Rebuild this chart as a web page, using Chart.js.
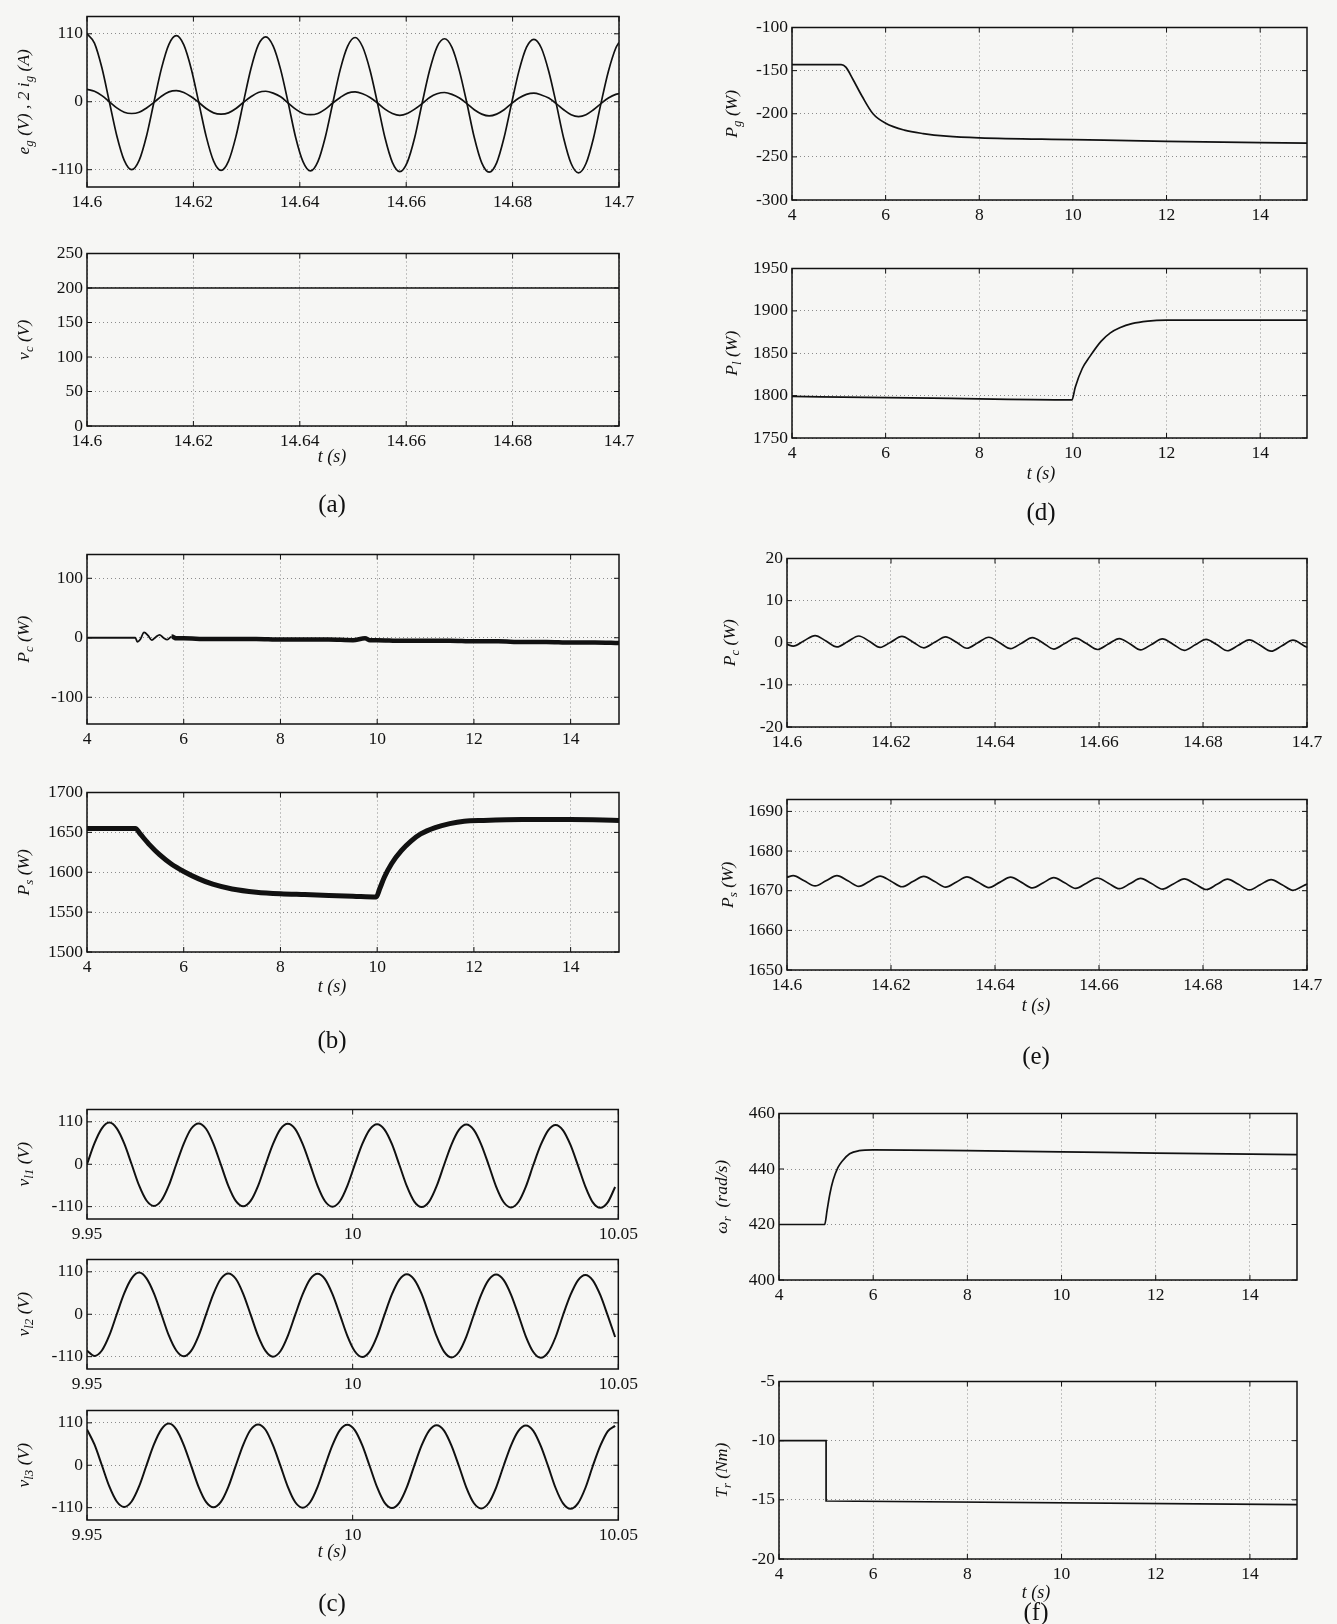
<!DOCTYPE html>
<html>
<head>
<meta charset="utf-8">
<script src="https://cdn.jsdelivr.net/npm/chart.js@4.4.1/dist/chart.umd.min.js"></script>
<style>
    body { margin: 0; background: #f6f6f4; }
    #page { position: relative; width: 1337px; height: 1624px; overflow: hidden; }
    .plot { position: absolute; }
    .lbl { position: absolute; font-family: 'Liberation Serif', 'DejaVu Serif', serif; color: #111;
           transform: translate(-50%, -50%); white-space: nowrap; }
    .tl { font-style: italic; font-size: 18px; }
    .cap { font-size: 25px; }
</style>
</head>
<body>
<div id="page"></div>
<script>
// (a) top - grid voltage and current, 14.6..14.7 s
const tGridA = [
    14.6000, 14.6014, 14.6028, 14.6042, 14.6056, 14.6070, 14.6084, 14.6098, 14.6112, 14.6126, 14.6140, 14.6154,
    14.6168, 14.6182, 14.6196, 14.6210, 14.6224, 14.6238, 14.6252, 14.6266, 14.6280, 14.6294, 14.6308, 14.6322,
    14.6336, 14.6350, 14.6364, 14.6378, 14.6392, 14.6406, 14.6420, 14.6434, 14.6448, 14.6462, 14.6476, 14.6490,
    14.6504, 14.6518, 14.6532, 14.6546, 14.6560, 14.6574, 14.6588, 14.6602, 14.6616, 14.6630, 14.6644, 14.6658,
    14.6672, 14.6686, 14.6700, 14.6714, 14.6728, 14.6742, 14.6756, 14.6770, 14.6784, 14.6798, 14.6812, 14.6826,
    14.6840, 14.6854, 14.6868, 14.6882, 14.6896, 14.6910, 14.6924, 14.6938, 14.6952, 14.6966, 14.6980, 14.6994,
    14.7000
];
const egA = [
    110, 95, 55, 0, -55, -95, -110, -95, -55, 0, 54, 93,
    107, 92, 53, -1, -56, -96, -111, -96, -56, -1, 53, 92,
    105, 90, 52, -1, -57, -97, -112, -97, -57, -2, 52, 90,
    104, 89, 51, -2, -58, -98, -113, -98, -58, -2, 51, 89,
    102, 88, 50, -2, -58, -99, -114, -99, -58, -3, 50, 88,
    101, 87, 49, -3, -59, -100, -115, -100, -59, -3, 49, 87,
    96
];
const ig2A = [
    20, 17, 10, 0, -10, -17, -19, -17, -10, -1, 9, 16,
    18, 15, 8, -1, -11, -18, -20, -18, -11, -1, 8, 15,
    17, 14, 8, -2, -12, -19, -21, -19, -12, -2, 7, 14,
    16, 13, 7, -2, -12, -19, -22, -19, -12, -3, 7, 13,
    15, 12, 6, -3, -13, -20, -23, -20, -13, -3, 6, 12,
    14, 11, 6, -3, -13, -21, -24, -21, -13, -3, 6, 12,
    13
];
// (a) bottom - dc link voltage
const tVc = [14.6, 14.65, 14.7];
const vcA = [200, 200, 200];

// (b) 4..15 s
const tPcB = [4, 5.0, 5.04, 5.1, 5.18, 5.26, 5.34, 5.42, 5.5, 5.58, 5.66, 5.75, 5.85, 6.0, 6.5, 7, 7.5, 8, 8.5, 9, 9.5, 9.75, 9.85, 10, 10.5, 11, 11.5, 12, 12.5, 13, 13.5, 14, 14.5, 15];
const pcB = [0, 0, -7, -3, 9, 4, -4, 1, 5, 0, -3, 2, -1, -1, -2, -2, -2, -3, -3, -3, -4, -1, -4, -4, -5, -5, -5, -6, -6, -7, -7, -8, -8, -9];
const tPsB = [4, 5.0, 5.1, 5.3, 5.5, 5.75, 6, 6.3, 6.6, 7, 7.5, 8, 8.5, 9, 9.5, 9.98, 10.05, 10.15, 10.3, 10.5, 10.7, 10.9, 11.2, 11.5, 11.8, 12.2, 13, 14, 15];
const psB = [1655, 1655, 1648, 1634, 1622, 1610, 1601, 1592, 1585, 1579, 1575, 1573, 1572, 1571, 1570, 1569, 1579, 1594, 1611, 1627, 1639, 1648, 1656, 1661, 1664, 1665, 1666, 1666, 1665];

// (c) load voltages, 9.95..10.05 s
const tGridC = [
    9.9500, 9.9514, 9.9528, 9.9542, 9.9556, 9.9570, 9.9584, 9.9598, 9.9612, 9.9626, 9.9640, 9.9654,
    9.9668, 9.9682, 9.9696, 9.9710, 9.9724, 9.9738, 9.9752, 9.9766, 9.9780, 9.9794, 9.9808, 9.9822,
    9.9836, 9.9850, 9.9864, 9.9878, 9.9892, 9.9906, 9.9920, 9.9934, 9.9948, 9.9962, 9.9976, 9.9990,
    10.0004, 10.0018, 10.0032, 10.0046, 10.0060, 10.0074, 10.0088, 10.0102, 10.0116, 10.0130, 10.0144, 10.0158,
    10.0172, 10.0186, 10.0200, 10.0214, 10.0228, 10.0242, 10.0256, 10.0270, 10.0284, 10.0298, 10.0312, 10.0326,
    10.0340, 10.0354, 10.0368, 10.0382, 10.0396, 10.0410, 10.0424, 10.0438, 10.0452, 10.0466, 10.0480, 10.0494
];
const vl1 = [
    0, 54, 93, 108, 93, 54, 0, -55, -94, -108, -94, -55,
    0, 53, 92, 106, 92, 53, -1, -56, -95, -109, -95, -56,
    -1, 52, 91, 105, 91, 52, -1, -56, -96, -110, -96, -56,
    -1, 52, 90, 104, 90, 52, -2, -57, -97, -111, -97, -57,
    -2, 51, 89, 103, 89, 51, -2, -58, -98, -112, -98, -58,
    -2, 50, 88, 102, 88, 50, -3, -58, -99, -113, -99, -59
];
const vl2 = [
    -94, -108, -94, -55, 0, 54, 93, 108, 93, 54, 0, -55,
    -94, -109, -95, -56, -1, 53, 92, 106, 92, 53, -1, -56,
    -95, -110, -96, -56, -1, 52, 91, 105, 91, 52, -1, -56,
    -96, -111, -97, -57, -1, 52, 90, 104, 90, 52, -2, -57,
    -97, -112, -98, -58, -2, 51, 89, 103, 89, 51, -2, -58,
    -98, -113, -99, -59, -2, 50, 88, 102, 88, 50, -3, -59
];
const vl3 = [
    93, 54, 0, -55, -94, -108, -94, -55, 0, 54, 93, 108,
    93, 53, -1, -56, -95, -109, -95, -56, -1, 53, 92, 106,
    92, 52, -1, -56, -96, -110, -96, -56, -1, 52, 91, 105,
    91, 52, -2, -57, -97, -111, -97, -57, -1, 52, 90, 104,
    90, 51, -2, -58, -98, -112, -98, -58, -2, 51, 89, 103,
    89, 50, -3, -59, -99, -113, -99, -59, -2, 50, 88, 102
];

// (d) powers, 4..15 s
const tPg = [4, 5.05, 5.15, 5.3, 5.5, 5.73, 6, 6.4, 6.8, 7.3, 8, 10, 12, 15];
const pg = [-143, -143, -146, -160, -180, -200, -211, -219, -223, -226, -228, -230, -232, -234];
const tPl = [4, 7, 9.98, 10.05, 10.2, 10.36, 10.6, 10.8, 11.0, 11.26, 11.6, 12, 15];
const pl = [1799, 1797, 1795, 1810, 1832, 1846, 1864, 1874, 1880, 1885, 1888, 1889, 1889];

// (e) ripple, 14.6..14.7 s
const tGridE = [
    14.6000, 14.6012, 14.6033, 14.6054, 14.6075, 14.6096, 14.6117, 14.6138, 14.6159, 14.6179,
    14.6200, 14.6221, 14.6242, 14.6263, 14.6284, 14.6305, 14.6326, 14.6346, 14.6367, 14.6388,
    14.6409, 14.6430, 14.6451, 14.6472, 14.6493, 14.6513, 14.6534, 14.6555, 14.6576, 14.6597,
    14.6618, 14.6639, 14.6660, 14.6680, 14.6701, 14.6722, 14.6743, 14.6764, 14.6785, 14.6806,
    14.6827, 14.6847, 14.6868, 14.6889, 14.6910, 14.6931, 14.6952, 14.6973, 14.6994, 14.7000
];
const pcE = [
    -0.4, -0.8, 0.5, 1.7, 0.4, -1.0, 0.3, 1.6, 0.3, -1.1,
    0.2, 1.5, 0.2, -1.2, 0.1, 1.4, 0.1, -1.3, 0.0, 1.3,
    0.0, -1.4, -0.1, 1.2, -0.1, -1.5, -0.2, 1.1, -0.2, -1.6,
    -0.3, 1.0, -0.3, -1.7, -0.4, 0.9, -0.4, -1.8, -0.5, 0.8,
    -0.5, -1.9, -0.6, 0.7, -0.6, -2.0, -0.7, 0.6, -0.7, -1.1
];
const psE = [
    1673.4, 1673.8, 1672.5, 1671.2, 1672.5, 1673.8, 1672.5, 1671.1, 1672.4, 1673.7,
    1672.4, 1671.0, 1672.3, 1673.6, 1672.3, 1670.9, 1672.2, 1673.5, 1672.2, 1670.8,
    1672.1, 1673.4, 1672.1, 1670.7, 1672.0, 1673.3, 1672.0, 1670.6, 1671.9, 1673.2,
    1671.9, 1670.5, 1671.8, 1673.1, 1671.8, 1670.4, 1671.7, 1673.0, 1671.7, 1670.3,
    1671.6, 1672.9, 1671.6, 1670.2, 1671.5, 1672.8, 1671.5, 1670.1, 1671.3, 1671.7
];

// (f) rotor speed and torque, 4..15 s
const tWr = [4, 4.97, 5.02, 5.08, 5.15, 5.25, 5.35, 5.5, 5.7, 6, 8, 10, 12, 15];
const wr = [420, 420, 425, 431, 436, 440.5, 443, 445.5, 446.6, 446.9, 446.6, 446.2, 445.7, 445.2];
const tTr = [4, 5, 5, 15];
const tr = [-10, -10, -15.1, -15.4];

// tick values
const xTicksMs = [14.6, 14.62, 14.64, 14.66, 14.68, 14.7];
const xTicksS = [4, 6, 8, 10, 12, 14];
const xTicksC = [9.95, 10, 10.05];
const yTicksEg = [-110, 0, 110];
const yTicksVc = [0, 50, 100, 150, 200, 250];
const yTicksPcB = [-100, 0, 100];
const yTicksPsB = [1500, 1550, 1600, 1650, 1700];
const yTicksVl = [-110, 0, 110];
const yTicksPg = [-300, -250, -200, -150, -100];
const yTicksPl = [1750, 1800, 1850, 1900, 1950];
const yTicksPcE = [-20, -10, 0, 10, 20];
const yTicksPsE = [1650, 1660, 1670, 1680, 1690];
const yTicksWr = [400, 420, 440, 460];
const yTicksTr = [-20, -15, -10, -5];

const INK = '#111';
const SERIF = "'Liberation Serif', 'DejaVu Serif', serif";
Chart.defaults.font.family = SERIF;
Chart.defaults.font.size = 17.5;
Chart.defaults.color = INK;

// box + inward ticks like matlab
const framePlugin = {
    id: 'frame',
    afterDatasetsDraw(chart) {
        const { ctx, chartArea: a, scales } = chart;
        ctx.save();
        ctx.strokeStyle = '#111';
        ctx.lineWidth = 1.5;
        ctx.strokeRect(a.left, a.top, a.right - a.left, a.bottom - a.top);
        ctx.lineWidth = 1;
        ctx.beginPath();
        scales.x.ticks.forEach(t => {
            const px = scales.x.getPixelForValue(t.value);
            ctx.moveTo(px, a.bottom); ctx.lineTo(px, a.bottom - 5);
            ctx.moveTo(px, a.top); ctx.lineTo(px, a.top + 5);
        });
        scales.y.ticks.forEach(t => {
            const py = scales.y.getPixelForValue(t.value);
            ctx.moveTo(a.left, py); ctx.lineTo(a.left + 5, py);
            ctx.moveTo(a.right, py); ctx.lineTo(a.right - 5, py);
        });
        ctx.stroke();
        ctx.restore();
    }
};

// rotated y title with subscripts
const yTitlePlugin = {
    id: 'ytitle',
    afterDraw(chart, args, opts) {
        if (!opts.parts) return;
        const ctx = chart.ctx, a = chart.chartArea;
        const big = 'italic 17.5px ' + SERIF, small = 'italic 13px ' + SERIF;
        ctx.save();
        ctx.translate(opts.x, (a.top + a.bottom) / 2);
        ctx.rotate(-Math.PI / 2);
        ctx.fillStyle = INK;
        ctx.textBaseline = 'middle';
        let w = 0;
        opts.parts.forEach(p => { ctx.font = p[1] ? small : big; w += ctx.measureText(p[0]).width; });
        let x = -w / 2;
        opts.parts.forEach(p => {
            ctx.font = p[1] ? small : big;
            ctx.fillText(p[0], x, p[1] ? 6 : 0);
            x += ctx.measureText(p[0]).width;
        });
        ctx.restore();
    }
};

const fmt = v => String(+(+v).toFixed(4));

const plots = [
    { L: 87, R: 619, T: 12, B: 187, cx: 0, tx: 24, xr: [14.6, 14.7], xt: xTicksMs, yr: [-138, 138], yt: yTicksEg,
      ylab: [['e'], ['g', 1], [' (V) , 2 '], ['i'], ['g', 1], [' (A)']],
      lines: [{ t: tGridA, v: egA }, { t: tGridA, v: ig2A }] },
    { L: 87, R: 619, T: 249, B: 426, cx: 0, tx: 24, xr: [14.6, 14.7], xt: xTicksMs, yr: [0, 250], yt: yTicksVc,
      ylab: [['v'], ['c', 1], [' (V)']],
      lines: [{ t: tVc, v: vcA }] },
    { L: 87, R: 619, T: 550, B: 724, cx: 0, tx: 24, xr: [4, 15], xt: xTicksS, yr: [-145, 140], yt: yTicksPcB,
      ylab: [['P'], ['c', 1], [' (W)']],
      lines: [{ t: tPcB, v: pcB, thick: 4.5 }] },
    { L: 87, R: 619, T: 788, B: 952, cx: 0, tx: 24, xr: [4, 15], xt: xTicksS, yr: [1500, 1700], yt: yTicksPsB,
      ylab: [['P'], ['s', 1], [' (W)']],
      lines: [{ t: tPsB, v: psB, w: 5 }] },
    { L: 87, R: 619, T: 1105, B: 1219, cx: 0, tx: 24, xr: [9.95, 10.05], xt: xTicksC, yr: [-142, 142], yt: yTicksVl,
      ylab: [['v'], ['l1', 1], [' (V)']],
      lines: [{ t: tGridC, v: vl1, w: 2 }] },
    { L: 87, R: 619, T: 1255, B: 1369, cx: 0, tx: 24, xr: [9.95, 10.05], xt: xTicksC, yr: [-142, 142], yt: yTicksVl,
      ylab: [['v'], ['l2', 1], [' (V)']],
      lines: [{ t: tGridC, v: vl2, w: 2 }] },
    { L: 87, R: 619, T: 1406, B: 1520, cx: 0, tx: 24, xr: [9.95, 10.05], xt: xTicksC, yr: [-142, 142], yt: yTicksVl,
      ylab: [['v'], ['l3', 1], [' (V)']],
      lines: [{ t: tGridC, v: vl3, w: 2 }] },
    { L: 792, R: 1307, T: 23, B: 200, cx: 700, tx: 732, xr: [4, 15], xt: xTicksS, yr: [-300, -100], yt: yTicksPg,
      ylab: [['P'], ['g', 1], [' (W)']],
      lines: [{ t: tPg, v: pg }] },
    { L: 792, R: 1307, T: 264, B: 438, cx: 700, tx: 732, xr: [4, 15], xt: xTicksS, yr: [1750, 1950], yt: yTicksPl,
      ylab: [['P'], ['l', 1], [' (W)']],
      lines: [{ t: tPl, v: pl }] },
    { L: 787, R: 1307, T: 554, B: 727, cx: 700, tx: 730, xr: [14.6, 14.7], xt: xTicksMs, yr: [-20, 20], yt: yTicksPcE,
      ylab: [['P'], ['c', 1], [' (W)']],
      lines: [{ t: tGridE, v: pcE }] },
    { L: 787, R: 1307, T: 795, B: 970, cx: 700, tx: 728, xr: [14.6, 14.7], xt: xTicksMs, yr: [1650, 1693], yt: yTicksPsE,
      ylab: [['P'], ['s', 1], [' (W)']],
      lines: [{ t: tGridE, v: psE }] },
    { L: 779, R: 1297, T: 1109, B: 1280, cx: 700, tx: 722, xr: [4, 15], xt: xTicksS, yr: [400, 460], yt: yTicksWr,
      ylab: [['\u03c9'], ['r', 1], ['  (rad/s)']],
      lines: [{ t: tWr, v: wr }] },
    { L: 779, R: 1297, T: 1377, B: 1559, cx: 700, tx: 722, xr: [4, 15], xt: xTicksS, yr: [-20, -5], yt: yTicksTr,
      ylab: [['T'], ['r', 1], [' (Nm)']],
      lines: [{ t: tTr, v: tr, sharp: true }] }
];

const page = document.getElementById('page');
const padT = 10, padR = 24, xH = 30;

plots.forEach(p => {
    const yW = p.L - p.cx;
    const w = yW + (p.R - p.L) + padR;
    const h = padT + (p.B - p.T) + xH;
    const box = document.createElement('div');
    box.className = 'plot';
    box.style.left = p.cx + 'px';
    box.style.top = (p.T - padT) + 'px';
    box.style.width = w + 'px';
    box.style.height = h + 'px';
    const cv = document.createElement('canvas');
    box.appendChild(cv);
    page.appendChild(box);

    const datasets = p.lines.map(s => {
        const ds = {
            data: s.t.map((t, i) => ({ x: t, y: s.v[i] })),
            borderColor: INK,
            borderWidth: s.w || 1.7,
            pointRadius: 0,
            fill: false
        };
        if (s.sharp) {
            ds.tension = 0;
        } else {
            ds.cubicInterpolationMode = 'monotone';
        }
        if (s.thick) {
            // ripple band gets wide once the transient is over
            ds.segment = { borderWidth: c => c.p0.parsed.x >= 5.75 ? s.thick : 1.8 };
        }
        return ds;
    });

    new Chart(cv, {
        type: 'line',
        data: { datasets },
        options: {
            responsive: true,
            maintainAspectRatio: false,
            animation: false,
            layout: { padding: { top: padT, right: padR, left: 0, bottom: 0 } },
            plugins: {
                legend: { display: false },
                tooltip: { enabled: false },
                ytitle: { x: p.tx - p.cx, parts: p.ylab }
            },
            scales: {
                x: {
                    type: 'linear', min: p.xr[0], max: p.xr[1],
                    grid: { color: '#8c8c8c', lineWidth: 1, drawTicks: false },
                    border: { display: false, dash: [1, 3] },
                    ticks: { padding: 5, maxRotation: 0, autoSkip: false, callback: fmt },
                    afterBuildTicks: s => { s.ticks = p.xt.map(v => ({ value: v })); },
                    afterFit: s => { s.height = xH; }
                },
                y: {
                    min: p.yr[0], max: p.yr[1],
                    grid: { color: '#8c8c8c', lineWidth: 1, drawTicks: false },
                    border: { display: false, dash: [1, 3] },
                    ticks: { padding: 4, autoSkip: false, callback: fmt },
                    afterBuildTicks: s => { s.ticks = p.yt.map(v => ({ value: v })); },
                    afterFit: s => { s.width = yW; }
                }
            }
        },
        plugins: [framePlugin, yTitlePlugin]
    });
});

// axis names under the time axes and panel captions
const texts = [
    ['t (s)', 'tl', 332, 456], ['t (s)', 'tl', 332, 986], ['t (s)', 'tl', 332, 1551],
    ['t (s)', 'tl', 1041, 473], ['t (s)', 'tl', 1036, 1005], ['t (s)', 'tl', 1036, 1592],
    ['(a)', 'cap', 332, 504], ['(b)', 'cap', 332, 1040], ['(c)', 'cap', 332, 1603],
    ['(d)', 'cap', 1041, 512], ['(e)', 'cap', 1036, 1056], ['(f)', 'cap', 1036, 1612]
];
texts.forEach(([s, cls, x, y]) => {
    const d = document.createElement('div');
    d.className = 'lbl ' + cls;
    d.style.left = x + 'px';
    d.style.top = y + 'px';
    d.textContent = s;
    page.appendChild(d);
});
</script>
</body>
</html>
